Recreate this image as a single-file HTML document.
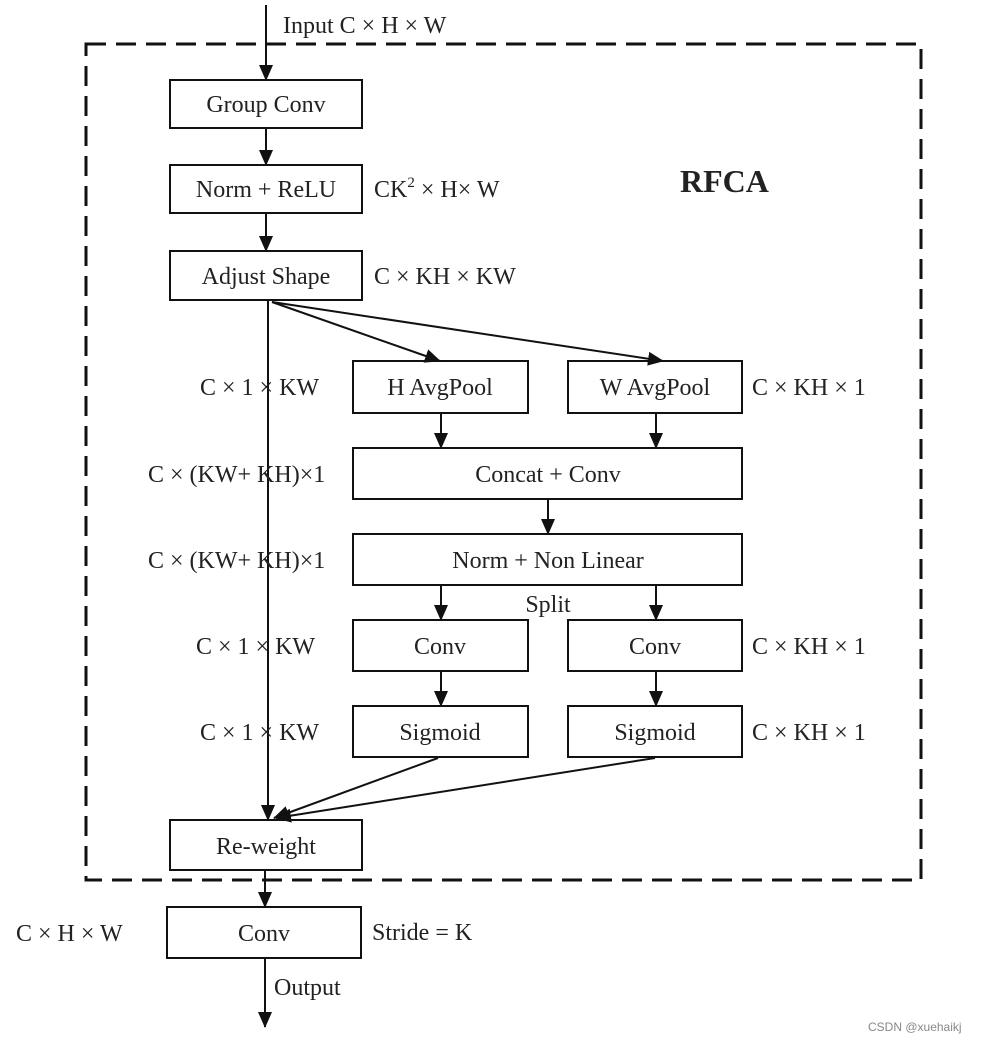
<!DOCTYPE html>
<html><head><meta charset="utf-8"><style>
html,body{margin:0;padding:0;background:#fff;}
svg{display:block;}
text{font-family:"Liberation Serif",serif;font-size:24px;fill:#222;}
</style></head><body>
<svg width="986" height="1040" viewBox="0 0 986 1040" xmlns="http://www.w3.org/2000/svg">
<defs>
<marker id="a" markerWidth="16" markerHeight="14" refX="15" refY="7" orient="auto" markerUnits="userSpaceOnUse">
<path d="M0,0 L16,7 L0,14 z" fill="#111"/>
</marker>
</defs>
<rect x="86" y="44" width="835" height="836" fill="none" stroke="#111" stroke-width="3" stroke-dasharray="20,10"/>
<g fill="none" stroke="#111" stroke-width="2">
<rect x="170" y="80" width="192" height="48"/>
<rect x="170" y="165" width="192" height="48"/>
<rect x="170" y="251" width="192" height="49"/>
<rect x="353" y="361" width="175" height="52"/>
<rect x="568" y="361" width="174" height="52"/>
<rect x="353" y="448" width="389" height="51"/>
<rect x="353" y="534" width="389" height="51"/>
<rect x="353" y="620" width="175" height="51"/>
<rect x="568" y="620" width="174" height="51"/>
<rect x="353" y="706" width="175" height="51"/>
<rect x="568" y="706" width="174" height="51"/>
<rect x="170" y="820" width="192" height="50"/>
<rect x="167" y="907" width="194" height="51"/>
</g>
<g stroke="#111" stroke-width="2" fill="none">
<line x1="266" y1="5" x2="266" y2="80" marker-end="url(#a)"/>
<line x1="266" y1="128" x2="266" y2="165" marker-end="url(#a)"/>
<line x1="266" y1="213" x2="266" y2="251" marker-end="url(#a)"/>
<line x1="268" y1="300" x2="268" y2="820" marker-end="url(#a)"/>
<line x1="272" y1="302" x2="440" y2="361" marker-end="url(#a)"/>
<line x1="272" y1="302" x2="663" y2="361" marker-end="url(#a)"/>
<line x1="441" y1="413" x2="441" y2="448" marker-end="url(#a)"/>
<line x1="656" y1="413" x2="656" y2="448" marker-end="url(#a)"/>
<line x1="548" y1="499" x2="548" y2="534" marker-end="url(#a)"/>
<line x1="441" y1="585" x2="441" y2="620" marker-end="url(#a)"/>
<line x1="656" y1="585" x2="656" y2="620" marker-end="url(#a)"/>
<line x1="441" y1="671" x2="441" y2="706" marker-end="url(#a)"/>
<line x1="656" y1="671" x2="656" y2="706" marker-end="url(#a)"/>
<line x1="438" y1="758" x2="274" y2="818" marker-end="url(#a)"/>
<line x1="655" y1="758" x2="276" y2="818" marker-end="url(#a)"/>
<line x1="265" y1="870" x2="265" y2="907" marker-end="url(#a)"/>
<line x1="265" y1="958" x2="265" y2="1027" marker-end="url(#a)"/>
</g>
<g text-anchor="middle">
<text x="266" y="112">Group Conv</text>
<text x="266" y="197">Norm + ReLU</text>
<text x="266" y="284">Adjust Shape</text>
<text x="440" y="395">H AvgPool</text>
<text x="655" y="395">W AvgPool</text>
<text x="548" y="482">Concat + Conv</text>
<text x="548" y="568">Norm + Non Linear</text>
<text x="440" y="654">Conv</text>
<text x="655" y="654">Conv</text>
<text x="440" y="740">Sigmoid</text>
<text x="655" y="740">Sigmoid</text>
<text x="266" y="854">Re-weight</text>
<text x="264" y="941">Conv</text>
<text x="548" y="612">Split</text>
</g>
<text x="283" y="33">Input  C × H × W</text>
<text x="374" y="197">CK<tspan font-size="15" dy="-10">2</tspan><tspan dy="10"> × H× W</tspan></text>
<text x="374" y="284">C × KH × KW</text>
<text x="680" y="192" style="font-size:32px;font-weight:bold">RFCA</text>
<text x="200" y="395">C × 1 × KW</text>
<text x="752" y="395">C × KH × 1</text>
<text x="148" y="482">C × (KW+ KH)×1</text>
<text x="148" y="568">C × (KW+ KH)×1</text>
<text x="196" y="654">C × 1 × KW</text>
<text x="752" y="654">C × KH × 1</text>
<text x="200" y="740">C × 1 × KW</text>
<text x="752" y="740">C × KH × 1</text>
<text x="16" y="941">C × H × W</text>
<text x="372" y="940">Stride = K</text>
<text x="274" y="995">Output</text>
<text x="868" y="1031" style="font-family:'Liberation Sans',sans-serif;font-size:12px;fill:#888">CSDN @xuehaikj</text>
</svg>
</body></html>
